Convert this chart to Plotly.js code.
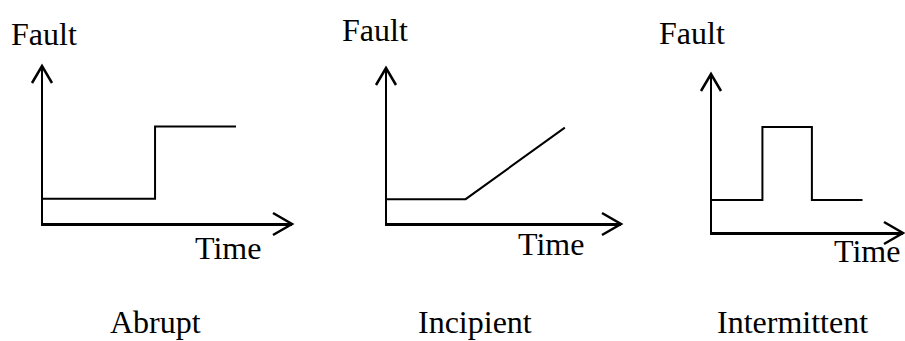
<!DOCTYPE html>
<html>
<head>
<meta charset="utf-8">
<script src="https://cdn.plot.ly/plotly-3.0.1.min.js"></script>
<style>html,body{margin:0;padding:0;background:#fff;}#chart{width:905px;height:341px;}</style>
</head>
<body>
<div id="chart"></div>
<script>
// ---- data ----
const panelNames = ['Abrupt', 'Incipient', 'Intermittent'];
const yLabel = 'Fault';
const xLabel = 'Time';

const abruptTime = [0, 4.5, 4.5, 7.75];
const abruptFault = [1, 1, 4, 4];

const incipientTime = [0, 3.36, 7.6];
const incipientFault = [1, 1, 4];

const intermittentTime = [0, 2.64, 2.64, 5.23, 5.23, 7.88];
const intermittentFault = [1.32, 1.32, 4.32, 4.32, 1.32, 1.32];

// ---- layout helpers ----
const W = 905, H = 341;
const px = v => v / W;
const py = v => 1 - v / H;

// panel frames in pixels: [xOrigin, xEnd, yOrigin, yTop]
const frames = [
  [43, 292, 223, 66],
  [387, 621, 223, 68],
  [712, 903, 232, 74]
];
const xRange = [0, 10];
const yRange = [0, 6.5];

const series = [
  [abruptTime, abruptFault],
  [incipientTime, incipientFault],
  [intermittentTime, intermittentFault]
];

const data = series.map((s, i) => ({
  type: 'scatter', mode: 'lines',
  x: s[0], y: s[1],
  xaxis: 'x' + (i ? i + 1 : ''), yaxis: 'y' + (i ? i + 1 : ''),
  line: {color: '#000', width: 2},
  hoverinfo: 'skip'
}));

const layout = {
  width: W, height: H,
  margin: {l: 0, r: 0, t: 0, b: 0, pad: 0},
  paper_bgcolor: '#fff', plot_bgcolor: 'rgba(0,0,0,0)',
  showlegend: false,
  font: {family: '"Liberation Serif", "Times New Roman", serif', color: '#000', size: 32},
  shapes: [], annotations: []
};

frames.forEach((f, i) => {
  const sfx = i ? String(i + 1) : '';
  layout['xaxis' + sfx] = {
    domain: [px(f[0]), px(f[1])], range: xRange, anchor: 'y' + sfx,
    showline: true, linecolor: '#000', linewidth: 3,
    showgrid: false, zeroline: false, showticklabels: false, ticks: '', fixedrange: true
  };
  layout['yaxis' + sfx] = {
    domain: [py(f[2]), py(f[3])], range: yRange, anchor: 'x' + sfx,
    showline: true, linecolor: '#000', linewidth: 2.5,
    showgrid: false, zeroline: false, showticklabels: false, ticks: '', fixedrange: true
  };
  // open chevron arrowheads at the axis ends
  layout.shapes.push({
    type: 'path', xref: 'paper', yref: 'paper',
    xsizemode: 'pixel', ysizemode: 'pixel', xanchor: px(f[1]), yanchor: py(f[2] + 1),
    path: 'M -19 11 L 0 0 L -19 -11',
    line: {color: '#000', width: 2.5}
  });
  layout.shapes.push({
    type: 'path', xref: 'paper', yref: 'paper',
    xsizemode: 'pixel', ysizemode: 'pixel', xanchor: px(f[0] - 1), yanchor: py(f[3]),
    path: 'M -10 -17 L 0 0 L 10 -17',
    line: {color: '#000', width: 2.5}
  });
});

// text labels [text, xCenter, yCenter] in pixels
const labels = [
  [yLabel, 44, 34], [xLabel, 228, 248], [panelNames[0], 155, 322],
  [yLabel, 375, 30], [xLabel, 551, 244], [panelNames[1], 475, 322],
  [yLabel, 692, 33], [xLabel, 867, 251], [panelNames[2], 792, 322]
];
labels.forEach(l => {
  layout.annotations.push({
    text: l[0], xref: 'paper', yref: 'paper', x: px(l[1]), y: py(l[2]),
    xanchor: 'center', yanchor: 'middle', showarrow: false,
    font: {size: 32, color: '#000'}
  });
});

Plotly.newPlot('chart', data, layout, {staticPlot: true, displayModeBar: false});
</script>
</body>
</html>
